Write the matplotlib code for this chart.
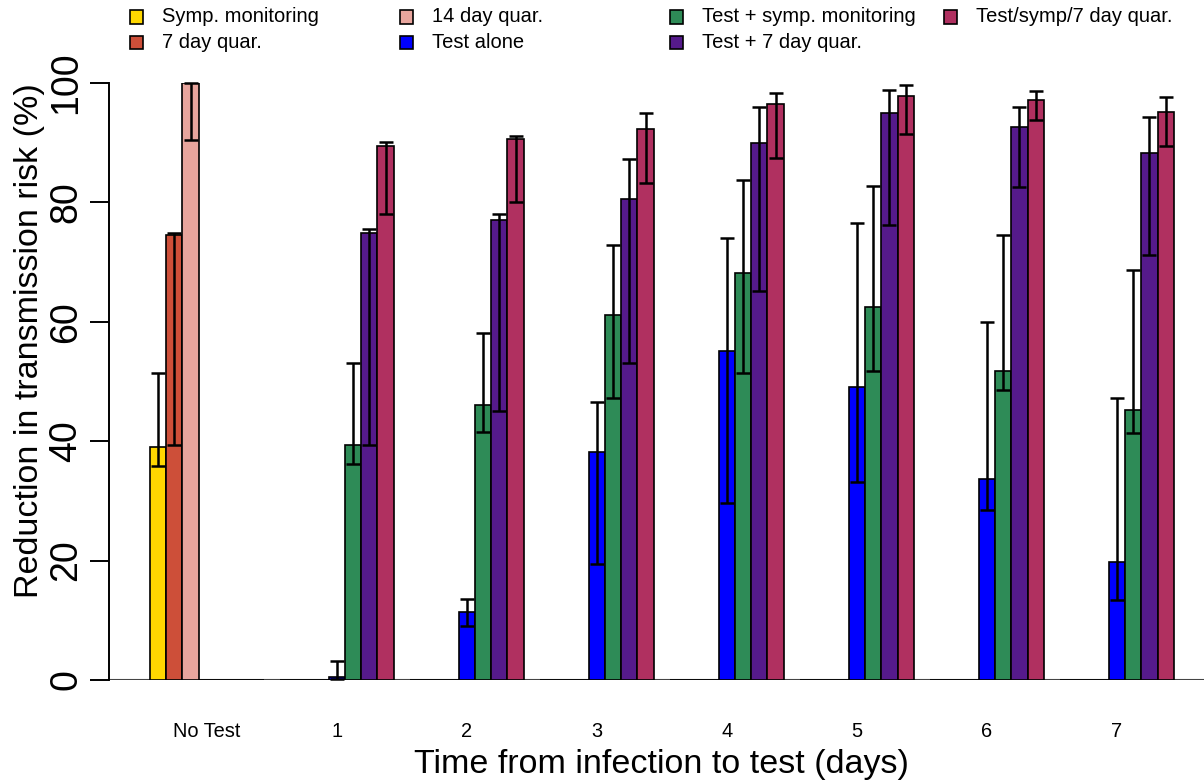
import numpy as np
import matplotlib
matplotlib.use("Agg")
import matplotlib.pyplot as plt
from matplotlib.patches import Rectangle

plt.rcParams['font.family'] = ['Liberation Sans', 'DejaVu Sans']

nan = np.nan

# groups along the x axis
groups = ["No Test", "1", "2", "3", "4", "5", "6", "7"]

# series: mean, lower and upper bound (%), one value per group
symp_mean = [39.0, 0, 0, 0, 0, 0, 0, 0]
symp_lo = [35.8, nan, nan, nan, nan, nan, nan, nan]
symp_hi = [51.5, nan, nan, nan, nan, nan, nan, nan]

quar7_mean = [74.6, 0, 0, 0, 0, 0, 0, 0]
quar7_lo = [39.4, nan, nan, nan, nan, nan, nan, nan]
quar7_hi = [74.8, nan, nan, nan, nan, nan, nan, nan]

quar14_mean = [100.0, 0, 0, 0, 0, 0, 0, 0]
quar14_lo = [90.4, nan, nan, nan, nan, nan, nan, nan]
quar14_hi = [100.0, nan, nan, nan, nan, nan, nan, nan]

test_mean = [0, 0.5, 11.4, 38.2, 55.1, 49.1, 33.7, 19.7]
test_lo = [nan, 0.1, 9.0, 19.5, 29.7, 33.2, 28.4, 13.4]
test_hi = [nan, 3.2, 13.6, 46.6, 74.0, 76.6, 59.9, 47.2]

testsymp_mean = [0, 39.3, 46.0, 61.1, 68.2, 62.5, 51.8, 45.3]
testsymp_lo = [nan, 36.1, 41.6, 47.2, 51.4, 51.8, 48.6, 41.4]
testsymp_hi = [nan, 53.1, 58.2, 72.9, 83.8, 82.8, 74.6, 68.6]

test7_mean = [0, 74.8, 77.1, 80.6, 89.9, 95.0, 92.6, 88.2]
test7_lo = [nan, 39.4, 45.1, 53.1, 65.2, 76.2, 82.5, 71.2]
test7_hi = [nan, 75.6, 78.0, 87.3, 95.9, 98.9, 95.9, 94.3]

all_mean = [0, 89.5, 90.7, 92.3, 96.4, 97.9, 97.1, 95.2]
all_lo = [nan, 78.0, 80.1, 83.2, 87.5, 91.4, 93.8, 89.5]
all_hi = [nan, 90.2, 91.2, 94.9, 98.4, 99.6, 98.6, 97.7]

names = ["Symp. monitoring", "7 day quar.", "14 day quar.", "Test alone",
         "Test + symp. monitoring", "Test + 7 day quar.", "Test/symp/7 day quar."]
colors = ["#FFD700", "#CD4F39", "#E8A59D", "#0000FF", "#2E8B57", "#551A8B", "#B03060"]

series = [(symp_mean, symp_lo, symp_hi),
          (quar7_mean, quar7_lo, quar7_hi),
          (quar14_mean, quar14_lo, quar14_hi),
          (test_mean, test_lo, test_hi),
          (testsymp_mean, testsymp_lo, testsymp_hi),
          (test7_mean, test7_lo, test7_hi),
          (all_mean, all_lo, all_hi)]

W, H = 1204, 784
fig = plt.figure(figsize=(W / 100, H / 100), dpi=100)
ax = fig.add_axes([109 / W, (H - 680) / H, (W - 109) / W, (680 - 83) / H])

n_ser = len(series)
stride = n_ser + 1
g = np.arange(len(groups))

# zero line across the plot
ax.axhline(0, color="#444444", lw=1.5, zorder=1)

for j, (m, lo, hi) in enumerate(series):
    m = np.array(m, dtype=float)
    lo = np.array(lo, dtype=float)
    hi = np.array(hi, dtype=float)
    x = g * stride + 1 + j + 0.5
    ax.bar(x, m, width=1.0, color=colors[j], edgecolor="black", linewidth=1.2, zorder=2)
    ax.errorbar(x, m, yerr=[m - lo, hi - m], fmt="none", ecolor="black",
                elinewidth=1.8, capsize=5, capthick=1.8, zorder=3, clip_on=False)

ax.set_xlim(-1.52, 65.86)
ax.set_ylim(0, 100)

for s in ["top", "right", "bottom"]:
    ax.spines[s].set_visible(False)
ax.spines["left"].set_linewidth(1.4)
ax.spines["left"].set_bounds(0, 100)

ax.set_yticks([0, 20, 40, 60, 80, 100])
ax.tick_params(axis="y", length=14, width=1.4, pad=4, labelsize=27, labelrotation=90)
for lab in ax.get_yticklabels():
    lab.set_va("center")

ax.set_xticks(g * stride + 1 + n_ser / 2)
ax.set_xticklabels(groups)
ax.tick_params(axis="x", length=0, pad=30, labelsize=14.4)

fig.text(30 / W, (H - 341) / H, "Reduction in transmission risk (%)", rotation=90,
         ha="center", va="center", fontsize=24.5)
fig.text(661 / W, (H - 765) / H, "Time from infection to test (days)",
         ha="center", va="center", fontsize=24.5)

# legend in two rows, four columns
col_x = [130, 400, 670, 944]
row_y = [17, 42]
sq = 13
for k, (name, c) in enumerate(zip(names, colors)):
    cx = col_x[k // 2]
    ry = row_y[k % 2]
    fig.patches.append(Rectangle((cx / W, (H - ry - sq / 2) / H), sq / W, sq / H,
                                 transform=fig.transFigure, facecolor=c,
                                 edgecolor="black", linewidth=1.2))
    fig.text((cx + 32) / W, (H - ry) / H, name, ha="left", va="center", fontsize=14.5)

fig.savefig("out.png", dpi=100)
